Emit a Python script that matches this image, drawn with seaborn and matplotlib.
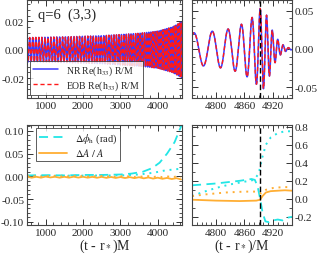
import numpy as np
import pandas as pd
import matplotlib
matplotlib.use("Agg")
import matplotlib.pyplot as plt
import seaborn as sns
from matplotlib.ticker import AutoMinorLocator, FormatStrFormatter, MultipleLocator

# --- waveform envelope (amplitude and GW frequency of h33)
amp_t = [500, 1500, 2500, 3500, 4000, 4400, 4600, 4750, 4790, 4825, 4850, 4870, 4885, 4893, 4900, 4910, 4920, 4935, 4950, 4960]
amp_v = [0.0085, 0.009, 0.0098, 0.0115, 0.013, 0.016, 0.019, 0.021, 0.023, 0.026, 0.031, 0.038, 0.046, 0.053, 0.052, 0.040, 0.022, 0.008, 0.002, 0.001]
omg_t = [500, 2000, 3000, 4000, 4500, 4750, 4800, 4840, 4870, 4890, 4905, 4930, 4960]
omg_v = [0.075, 0.085, 0.095, 0.115, 0.135, 0.15, 0.18, 0.22, 0.29, 0.40, 0.50, 0.56, 0.56]
t_merger = 4893

# --- amplitude / phase differences, full run (left bottom)
dphi_t = [500, 1000, 1500, 2000, 2500, 3000, 3300, 3600, 3850, 4050, 4250, 4450, 4650]
dphi_v = [0.002, 0.0025, 0.002, 0.003, 0.003, 0.004, 0.006, 0.010, 0.018, 0.030, 0.050, 0.075, 0.115]
dphi2_t = [500, 3000, 3500, 3900, 4200, 4650]
dphi2_v = [0.001, 0.002, 0.004, 0.008, 0.013, 0.017]
dA_t = list(range(500, 4650, 125))
dA_v = [-0.001, -0.003, -0.001, -0.003, -0.0005, -0.0025, -0.001, -0.003, -0.001, -0.003,
        -0.0008, -0.0028, -0.001, -0.003, -0.0012, -0.0032, -0.0012, -0.0034, -0.0014, -0.0036,
        -0.0016, -0.0038, -0.0018, -0.004, -0.002, -0.0045, -0.0025, -0.005, -0.003, -0.0055,
        -0.0035, -0.006, -0.004, -0.007]
dA2_v = [0.001, -0.001, 0.0012, -0.0008, 0.0012, -0.0008, 0.001, -0.001, 0.0012, -0.0008,
         0.001, -0.001, 0.0012, -0.0008, 0.001, -0.001, 0.001, -0.0012, 0.0008, -0.0012,
         0.0008, -0.0014, 0.0006, -0.0014, 0.0004, -0.0016, 0.0004, -0.0018, 0.0002, -0.002,
         0.0, -0.002, -0.0005, -0.0025]

# --- around merger (right bottom)
rphi_t = [4750, 4800, 4850, 4875, 4882, 4888, 4893, 4898, 4904, 4912, 4920, 4930, 4940, 4950, 4960]
rphi_v = [0.15, 0.17, 0.20, 0.22, 0.21, 0.13, 0.0, -0.15, -0.25, -0.26, -0.24, -0.23, -0.24, -0.21, -0.20]
rphi2_t = [4750, 4770, 4800, 4830, 4860, 4880, 4890, 4897, 4905, 4915, 4930, 4945, 4960]
rphi2_v = [0.03, 0.07, 0.12, 0.16, 0.19, 0.21, 0.28, 0.45, 0.60, 0.68, 0.73, 0.75, 0.75]
rA_t = [4750, 4800, 4850, 4885, 4893, 4898, 4905, 4915, 4930, 4945, 4960]
rA_v = [-0.01, -0.02, -0.025, -0.02, -0.01, 0.03, 0.07, 0.085, 0.09, 0.095, 0.09]
rA2_t = [4750, 4780, 4820, 4860, 4885, 4895, 4905, 4920, 4940, 4960]
rA2_v = [0.03, 0.05, 0.07, 0.08, 0.08, 0.06, 0.10, 0.12, 0.13, 0.13]

sns.set_style("ticks")
plt.rcParams["font.family"] = ["Liberation Serif", "DejaVu Serif"]
plt.rcParams["mathtext.fontset"] = "stix"
plt.rcParams["axes.unicode_minus"] = False

# build h33 from envelope
t = np.arange(500, 4960.01, 0.25)
om = np.interp(t, omg_t, omg_v)
phi = np.concatenate([[0], np.cumsum(0.5 * (om[1:] + om[:-1]) * np.diff(t))])
phi = phi - np.interp(t_merger, t, phi)
amp = np.interp(t, amp_t, amp_v)
dphi_all = np.interp(t, dphi_t + rphi_t, dphi_v + rphi_v) * 0.05
wave = pd.DataFrame({"t": t, "nr": amp * np.cos(phi), "eob": amp * np.cos(phi + dphi_all)})

blue = "#3a3aff"
red = "#ff1a1a"
cyan = "#22e6e6"
orange = "#ffae33"

fig = plt.figure(figsize=(3.19, 2.55), dpi=100)
ax1 = fig.add_axes([0.0846, 0.612, 0.486, 0.384])
ax2 = fig.add_axes([0.602, 0.612, 0.3135, 0.384])
ax3 = fig.add_axes([0.0846, 0.114, 0.486, 0.392])
ax4 = fig.add_axes([0.602, 0.114, 0.3135, 0.392])

for ax in (ax1, ax2):
    sns.lineplot(data=wave, x="t", y="nr", ax=ax, color=blue, lw=1.1, estimator=None, sort=False,
                 label=r"NR Re(h$_{33}$) R/M")
    sns.lineplot(data=wave, x="t", y="eob", ax=ax, color=red, lw=1.0, ls=(0, (3, 2)), estimator=None,
                 sort=False, label=r"EOB Re(h$_{33}$) R/M")

for ax, lo in ((ax3, False), (ax4, True)):
    if lo:
        pt, pv, p2t, p2v, at, av, a2t, a2v = rphi_t, rphi_v, rphi2_t, rphi2_v, rA_t, rA_v, rA2_t, rA2_v
    else:
        pt, pv, p2t, p2v, at, av, a2t, a2v = dphi_t, dphi_v, dphi2_t, dphi2_v, dA_t, dA_v, dA_t, dA2_v
    sns.lineplot(x=pt, y=pv, ax=ax, color=cyan, lw=1.3, ls=(0, (5, 3)), estimator=None,
                 label=r"$\Delta\phi_{\rm h}$ (rad)")
    sns.lineplot(x=at, y=av, ax=ax, color=orange, lw=1.3, estimator=None, label=r"$\Delta A\ /\ A$")
    sns.lineplot(x=p2t, y=p2v, ax=ax, color=cyan, lw=1.4, ls=(0, (1, 2.5)), estimator=None)
    sns.lineplot(x=a2t, y=a2v, ax=ax, color=orange, lw=1.4, ls=(0, (1, 2.5)), estimator=None)

ax1.set_xlim(500, 4650)
ax3.set_xlim(500, 4650)
ax2.set_xlim(4750, 4960)
ax4.set_xlim(4750, 4960)
ax1.set_ylim(-0.034, 0.035)
ax2.set_ylim(-0.064, 0.064)
ax3.set_ylim(-0.107, 0.113)
ax4.set_ylim(-0.29, 0.82)

for ax in (ax2, ax4):
    ax.axvline(t_merger, color="black", lw=1.0, ls=(0, (4, 2)))

for ax in (ax1, ax3):
    ax.xaxis.set_major_locator(MultipleLocator(1000))
for ax in (ax2, ax4):
    ax.xaxis.set_major_locator(MultipleLocator(60))
    ax.yaxis.tick_right()
ax1.yaxis.set_major_locator(MultipleLocator(0.02))
ax1.yaxis.set_major_formatter(FormatStrFormatter("%.2f"))
ax2.yaxis.set_major_locator(MultipleLocator(0.05))
ax2.yaxis.set_major_formatter(FormatStrFormatter("%.2f"))
ax3.yaxis.set_major_locator(MultipleLocator(0.05))
ax3.yaxis.set_major_formatter(FormatStrFormatter("%.2f"))
ax4.yaxis.set_major_locator(MultipleLocator(0.2))
ax4.yaxis.set_major_formatter(FormatStrFormatter("%.1f"))

for ax in (ax1, ax2, ax3, ax4):
    ax.xaxis.set_minor_locator(AutoMinorLocator(5 if ax in (ax1, ax3) else 6))
    ax.yaxis.set_minor_locator(AutoMinorLocator(5 if ax is not ax4 else 2))
    ax.tick_params(which="both", direction="in", top=True, bottom=True, left=True, right=True,
                   labelsize=8, pad=2, color="#333333")
    ax.tick_params(which="major", length=4, width=0.7)
    ax.tick_params(which="minor", length=2, width=0.6)
    ax.set_xlabel("")
    ax.set_ylabel("")
    for s in ax.spines.values():
        s.set_color("#444444")
        s.set_linewidth(0.8)

ax3.set_xlabel(r"(t - r$_*$)M", fontsize=10, labelpad=0)
ax4.set_xlabel(r"(t - r$_*$)/M", fontsize=10, labelpad=0)

ax1.text(0.07, 0.92, "q=6  (3,3)", transform=ax1.transAxes, fontsize=10.5, va="top")

ax1.legend(loc="lower left", fontsize=7, frameon=True, fancybox=False, edgecolor="#333333",
           handlelength=2.6, borderpad=0.3, labelspacing=0.15, borderaxespad=0.3)
ax1.get_legend().get_frame().set_linewidth(0.7)
ax3.legend(loc="upper left", fontsize=7.5, frameon=True, fancybox=False, edgecolor="#333333",
           handlelength=2.6, borderpad=0.3, labelspacing=0.15, borderaxespad=0.3, bbox_to_anchor=(0.04, 1.0))
ax3.get_legend().get_frame().set_linewidth(0.7)
for ax in (ax2, ax4):
    if ax.get_legend():
        ax.get_legend().remove()

fig.savefig("out.png", dpi=100)
